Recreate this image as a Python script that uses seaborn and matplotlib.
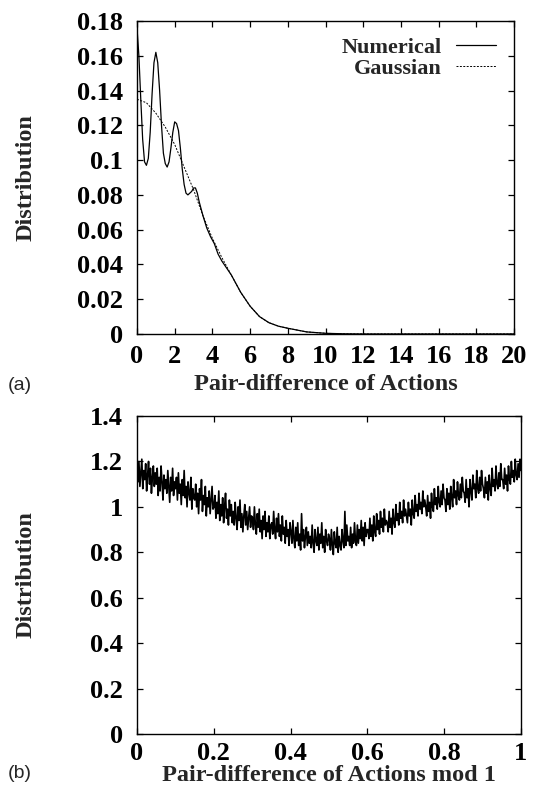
import numpy as np
import pandas as pd
import matplotlib
matplotlib.use("Agg")
import matplotlib.pyplot as plt
import seaborn as sns

# ---------------- data ----------------
num_x = [0.0, 0.1, 0.2, 0.3, 0.4, 0.5, 0.6, 0.7, 0.8, 0.9, 1.0, 1.1, 1.2, 1.3, 1.4,
         1.5, 1.6, 1.7, 1.8, 1.9, 2.0, 2.1, 2.2, 2.3, 2.4, 2.5, 2.6, 2.7, 2.8, 2.9,
         3.0, 3.1, 3.2, 3.3, 3.5, 3.7, 3.9, 4.1, 4.3, 4.5, 5.0, 5.5, 6.0, 6.5, 7.0,
         7.5, 8.0, 9.0, 10.0, 11.0, 12.0, 14.0, 16.0, 18.0, 20.0]
num_y = [0.176, 0.160, 0.135, 0.112, 0.099, 0.097, 0.101, 0.116, 0.138, 0.156,
         0.162, 0.156, 0.140, 0.120, 0.104, 0.098, 0.096, 0.099, 0.107, 0.116,
         0.122, 0.121, 0.117, 0.107, 0.095, 0.086, 0.081, 0.080, 0.081, 0.082,
         0.084, 0.084, 0.081, 0.076, 0.068, 0.061, 0.056, 0.052, 0.046, 0.042,
         0.034, 0.024, 0.016, 0.010, 0.0065, 0.0045, 0.0033, 0.0012, 0.0004,
         0.0001, 0.0, 0.0, 0.0, 0.0, 0.0]

gau_x = [0.0, 0.5, 1.0, 1.5, 2.0, 2.5, 3.0, 3.5, 4.0, 4.5, 5.0, 5.5, 6.0, 6.5,
         7.0, 7.5, 8.0, 9.0, 10.0, 11.0, 12.0, 20.0]
gau_y = [0.135, 0.133, 0.127, 0.119, 0.109, 0.096, 0.083, 0.068, 0.055, 0.044,
         0.034, 0.024, 0.016, 0.010, 0.0065, 0.0045, 0.0033, 0.0012, 0.0004,
         0.0001, 0.0, 0.0]

# mod-1 distribution, values in hundredths, 400 samples over [0, 1]
mod_vals = [
    117, 111, 120, 109, 115, 121, 108, 116, 112, 119, 107, 114, 120, 110, 117, 106, 113, 118, 109, 115,
    110, 117, 105, 113, 107, 118, 111, 103, 114, 108, 112, 106, 116, 109, 102, 113, 107, 117, 105, 111,
    108, 113, 103, 115, 106, 110, 101, 112, 105, 116, 104, 109, 100, 111, 106, 103, 113, 99, 108, 104,
    103, 110, 100, 106, 97, 108, 103, 112, 98, 105, 101, 109, 96, 104, 100, 107, 97, 103, 109, 99,
    100, 105, 95, 102, 97, 107, 94, 101, 96, 104, 93, 100, 106, 95, 99, 92, 103, 96, 101, 93,
    98, 92, 102, 95, 90, 100, 94, 103, 91, 97, 89, 96, 101, 92, 98, 90, 95, 100, 91, 96,
    95, 90, 100, 92, 88, 97, 91, 99, 89, 94, 86, 96, 90, 98, 87, 93, 89, 96, 86, 92,
    93, 88, 98, 90, 86, 95, 89, 97, 87, 92, 85, 96, 88, 91, 84, 94, 87, 90, 83, 93,
    89, 84, 94, 86, 82, 91, 85, 93, 83, 88, 81, 97, 85, 90, 82, 87, 91, 83, 89, 84,
    87, 82, 92, 84, 80, 90, 85, 83, 91, 81, 88, 84, 93, 82, 87, 80, 90, 85, 83, 88,
    86, 81, 90, 83, 79, 89, 84, 82, 91, 80, 87, 83, 81, 90, 85, 82, 98, 83, 92, 85,
    87, 83, 91, 82, 88, 84, 93, 85, 83, 92, 84, 90, 86, 94, 85, 91, 83, 93, 87, 90,
    90, 86, 95, 87, 92, 85, 96, 89, 87, 97, 90, 94, 88, 98, 91, 95, 89, 99, 92, 94,
    93, 89, 98, 91, 95, 88, 99, 93, 91, 101, 94, 97, 92, 102, 95, 98, 93, 103, 96, 99,
    96, 93, 102, 96, 99, 92, 103, 97, 95, 105, 98, 101, 96, 106, 99, 102, 97, 107, 100, 103,
    100, 96, 105, 98, 102, 95, 106, 100, 98, 108, 101, 104, 99, 109, 102, 100, 107, 101, 110, 104,
    103, 98, 108, 101, 106, 99, 109, 104, 100, 112, 104, 107, 101, 111, 105, 103, 110, 104, 113, 107,
    106, 102, 112, 104, 108, 100, 112, 107, 103, 114, 108, 110, 104, 116, 108, 106, 113, 107, 116, 110,
    108, 104, 113, 106, 111, 103, 114, 108, 105, 117, 109, 112, 107, 118, 110, 108, 115, 109, 119, 112,
    112, 108, 117, 110, 114, 107, 118, 112, 110, 120, 113, 116, 111, 121, 114, 112, 119, 113, 121, 116,
]
mod_y = [v / 100.0 for v in mod_vals]
mod_x = list(np.linspace(0.0, 1.0, len(mod_y)))

xticks_a = [0, 2, 4, 6, 8, 10, 12, 14, 16, 18, 20]
yticks_a = [0, 0.02, 0.04, 0.06, 0.08, 0.1, 0.12, 0.14, 0.16, 0.18]
yticklabels_a = ["0", "0.02", "0.04", "0.06", "0.08", "0.1", "0.12", "0.14", "0.16", "0.18"]
xticks_b = [0, 0.2, 0.4, 0.6, 0.8, 1]
xticklabels_b = ["0", "0.2", "0.4", "0.6", "0.8", "1"]
yticks_b = [0, 0.2, 0.4, 0.6, 0.8, 1, 1.2, 1.4]
yticklabels_b = ["0", "0.2", "0.4", "0.6", "0.8", "1", "1.2", "1.4"]

# ---------------- style ----------------
sns.set_style("ticks")
plt.rcParams["font.family"] = ["Liberation Serif", "DejaVu Serif"]
plt.rcParams["font.weight"] = "bold"
plt.rcParams["axes.labelweight"] = "bold"
plt.rcParams["xtick.direction"] = "in"
plt.rcParams["ytick.direction"] = "in"
plt.rcParams["xtick.top"] = True
plt.rcParams["ytick.right"] = True

W, H = 534, 791
fig = plt.figure(figsize=(W / 100, H / 100), dpi=100)

def px_axes(l, t, r, b):
    return fig.add_axes([l / W, 1 - b / H, (r - l) / W, (b - t) / H])

TFS = 19     # tick labels
LFS = 17.5   # axis labels

def style_axes(ax, xpad=8):
    for s in ax.spines.values():
        s.set_linewidth(1.0)
        s.set_color("black")
    ax.tick_params(axis="both", which="major", length=4, width=0.9,
                   labelsize=TFS, colors="black")
    ax.tick_params(axis="x", pad=xpad)
    ax.tick_params(axis="y", pad=10)
    for lab in ax.get_xticklabels() + ax.get_yticklabels():
        lab.set_fontweight("bold")

def place_ylabel(ax, top_px, bot_px):
    ax.yaxis.set_label_coords(37 / W, 1 - (top_px + bot_px) / 2 / H,
                              transform=fig.transFigure)

# ---------------- panel (a) ----------------
ax1 = px_axes(137, 21, 514, 334)
df_num = pd.DataFrame({"x": num_x, "y": num_y})
df_gau = pd.DataFrame({"x": gau_x, "y": gau_y})
sns.lineplot(data=df_num, x="x", y="y", ax=ax1, color="black", lw=0.9,
             label="Numerical", sort=False)
sns.lineplot(data=df_gau, x="x", y="y", ax=ax1, color="black", lw=0.7,
             linestyle=(0, (2, 1.5)), label="Gaussian", sort=False)
ax1.set_xlim(0, 20)
ax1.set_ylim(0, 0.18)
ax1.set_xticks(xticks_a)
ax1.set_xticklabels([str(t) for t in xticks_a])
ax1.set_yticks(yticks_a)
ax1.set_yticklabels(yticklabels_a)
ax1.set_xlabel("Pair-difference of Actions", fontsize=LFS, fontweight="bold", labelpad=4)
ax1.set_ylabel("Distribution", fontsize=LFS, fontweight="bold")
place_ylabel(ax1, 21, 334)
style_axes(ax1)
leg = ax1.legend(loc="upper right", bbox_to_anchor=(0.952, 0.949), frameon=False,
                 markerfirst=False, handlelength=1.8, handletextpad=0.63,
                 borderaxespad=0, borderpad=0,
                 labelspacing=0.05, prop={"family": "Liberation Serif",
                                          "weight": "bold", "size": 16})
for t in leg.get_texts():
    t.set_ha("right")

# ---------------- panel (b) ----------------
ax2 = px_axes(137, 416, 521, 734)
df_mod = pd.DataFrame({"x": mod_x, "y": mod_y})
sns.lineplot(data=df_mod, x="x", y="y", ax=ax2, color="black", lw=1.2, sort=False)
ax2.set_xlim(0, 1)
ax2.set_ylim(0, 1.4)
ax2.set_xticks(xticks_b)
ax2.set_xticklabels(xticklabels_b)
ax2.set_yticks(yticks_b)
ax2.set_yticklabels(yticklabels_b)
ax2.set_xlabel("Pair-difference of Actions mod 1", fontsize=LFS, fontweight="bold", labelpad=0)
ax2.set_ylabel("Distribution", fontsize=LFS, fontweight="bold")
place_ylabel(ax2, 416, 734)
style_axes(ax2, xpad=6)

# panel tags
fig.text(8 / W, 1 - 385 / H, "(a)", family="Liberation Sans", fontweight="normal",
         fontsize=14, va="center", ha="left")
fig.text(8 / W, 1 - 774 / H, "(b)", family="Liberation Sans", fontweight="normal",
         fontsize=14, va="center", ha="left")

fig.savefig("out.png", dpi=100)
